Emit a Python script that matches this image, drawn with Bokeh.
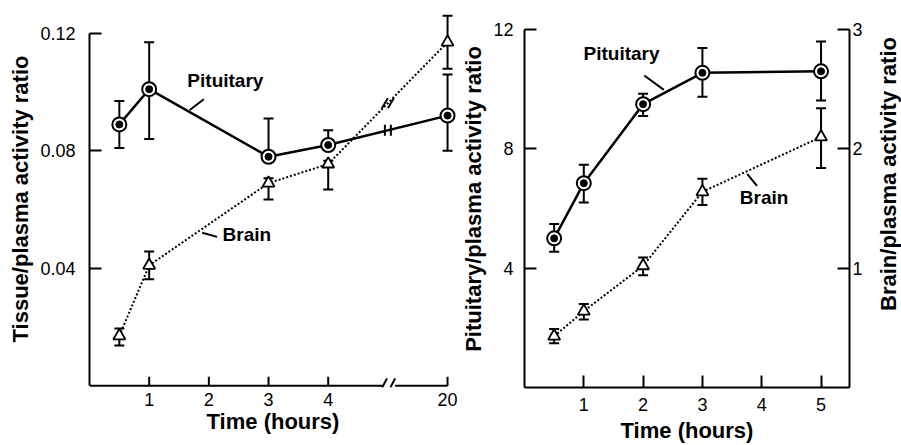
import math
import numpy as np
from bokeh.plotting import figure
from bokeh.models import Range1d, LinearAxis, FixedTicker, Label, ColumnDataSource
from bokeh.layouts import row
from bokeh.embed import file_html
from bokeh.resources import INLINE

# ---------------- data ----------------
# Left panel: tissue/plasma activity ratio vs time (broken axis 4 -> 20 h)
left_time = [0.5, 1, 3, 4, 20]
left_pit = [0.089, 0.101, 0.078, 0.082, 0.092]
left_pit_upper = [0.097, 0.117, 0.091, 0.087, 0.106]
left_pit_lower = [0.081, 0.084, 0.078, 0.082, 0.080]
left_brain = [0.017, 0.041, 0.069, 0.0755, 0.117]
left_brain_upper = [0.0195, 0.0457, 0.0707, 0.0766, 0.126]
left_brain_lower = [0.0137, 0.0363, 0.0634, 0.0668, 0.108]
left_xticks = [1, 2, 3, 4, 20]
left_yticks = [0.04, 0.08, 0.12]

# Right panel: pituitary (left axis) and brain (right axis)
right_time = [0.5, 1, 2, 3, 5]
right_pit = [5.0, 6.85, 9.5, 10.55, 10.6]
right_pit_upper = [5.48, 7.47, 9.85, 11.38, 11.6]
right_pit_lower = [4.55, 6.2, 9.1, 9.75, 9.62]
right_brain = [0.43, 0.64, 1.02, 1.64, 2.10]
right_brain_upper = [0.49, 0.70, 1.09, 1.75, 2.34]
right_brain_lower = [0.37, 0.57, 0.94, 1.53, 1.84]
right_xticks = [1, 2, 3, 4, 5]
right_pit_ticks = [4, 8, 12]
right_brain_ticks = [1, 2, 3]

FONT = "Liberation Sans"

# broken time axis: times up to 4 h are linear, the break sits at 5, 20 h one unit after it
LAST_LINEAR = 4
BREAK_POS = 5


def broken(t):
    return t if t <= LAST_LINEAR else BREAK_POS + 1


def style_axis(ax, ticks, standoff, overrides=None):
    ax.ticker = FixedTicker(ticks=ticks)
    ax.axis_line_width = 2
    ax.axis_line_color = "black"
    ax.major_tick_line_width = 2
    ax.major_tick_line_color = "black"
    ax.major_tick_in = 12
    ax.major_tick_out = 0
    ax.minor_tick_line_color = None
    ax.major_label_standoff = standoff
    ax.major_label_text_font = FONT
    ax.major_label_text_font_size = "18px"
    ax.major_label_text_color = "black"
    ax.axis_label_text_font = FONT
    ax.axis_label_text_font_size = "22px"
    ax.axis_label_text_font_style = "bold"
    ax.axis_label_text_color = "black"
    ax.axis_label_standoff = 4
    if overrides:
        ax.major_label_overrides = overrides


def draw_series(p, x, y, lo, hi, kind, y_range_name="default"):
    src = ColumnDataSource(dict(x=x, y=y, lo=lo, hi=hi))
    kw = dict(source=src, y_range_name=y_range_name)
    if kind == "pit":
        p.line("x", "y", line_color="black", line_width=2.5, **kw)
    else:
        p.line("x", "y", line_color="black", line_width=2, line_dash="2 2", **kw)
    p.segment("x", "lo", "x", "hi", line_color="black", line_width=2, **kw)
    p.scatter("x", "lo", marker="dash", size=10, line_color="black", line_width=2, **kw)
    p.scatter("x", "hi", marker="dash", size=10, line_color="black", line_width=2, **kw)
    if kind == "pit":
        p.scatter("x", "y", marker="circle", size=14, fill_color="white",
                  line_color="black", line_width=2, **kw)
        p.scatter("x", "y", marker="circle", size=7, fill_color="black",
                  line_color="black", line_width=1, **kw)
    else:
        p.scatter("x", "y", marker="triangle", size=12, fill_color="white",
                  line_color="black", line_width=1.8, **kw)


def annotate(p, x, y, text, x0, y0, x1, y1, y_range_name="default"):
    p.add_layout(Label(x=x, y=y, text=text, text_font=FONT, text_font_size="19px",
                       text_font_style="bold", text_color="black",
                       y_range_name=y_range_name))
    p.segment(x0=[x0], y0=[y0], x1=[x1], y1=[y1], line_color="black", line_width=2,
              y_range_name=y_range_name)


# ---------------- left panel ----------------
# y range starts a little below 0 so that the drawn (broken) time axis at y=0 is not clipped
p1 = figure(width=458, height=445, output_backend="svg", toolbar_location=None,
            x_range=Range1d(0, 6.15), y_range=Range1d(-0.0006, 0.1278),
            min_border_left=89, min_border_right=2, min_border_top=10, min_border_bottom=53)
p1.outline_line_color = None
p1.grid.visible = False
p1.background_fill_color = "white"
p1.border_fill_color = "white"

lx = [broken(t) for t in left_time]
draw_series(p1, lx, left_brain, left_brain_lower, left_brain_upper, "brain")
draw_series(p1, lx, left_pit, left_pit_lower, left_pit_upper, "pit")

xt = [broken(t) for t in left_xticks]
style_axis(p1.xaxis[0], xt, 5, {broken(t): str(t) for t in left_xticks})
p1.xaxis[0].axis_line_color = None
p1.xaxis[0].major_tick_line_color = None
p1.xaxis[0].axis_label_standoff = 0
p1.xaxis[0].axis_label = "Time (hours)"
style_axis(p1.yaxis[0], left_yticks, 14)
p1.yaxis[0].bounds = (0, left_yticks[-1])
p1.yaxis[0].axis_label = "Tissue/plasma activity ratio"

# broken time axis drawn at y = 0: two pieces, two slashes, inward tick marks
GAP_L, GAP_R = 0.095, 0.122     # half-gap of the break (x units)
TICK_H = 0.0031                 # inward tick length (y units)
SL_DX, SL_LO, SL_HI = 0.08, -0.0006, 0.0025
p1.segment(x0=[0, BREAK_POS + GAP_R], y0=[0, 0], x1=[BREAK_POS - GAP_L, xt[-1]], y1=[0, 0],
           line_color="black", line_width=2)
p1.segment(x0=[BREAK_POS - GAP_L, BREAK_POS + GAP_R - SL_DX], y0=[SL_LO, SL_LO],
           x1=[BREAK_POS - GAP_L + SL_DX, BREAK_POS + GAP_R], y1=[SL_HI, SL_HI],
           line_color="black", line_width=2)
p1.segment(x0=xt, y0=[0] * len(xt), x1=xt, y1=[TICK_H] * len(xt),
           line_color="black", line_width=2)

# break marks on the lines (positions interpolated from the data)
pit_at_break = float(np.interp(BREAK_POS, lx, left_pit))
brain_at_break = float(np.interp(BREAK_POS, lx, left_brain))
p1.scatter([BREAK_POS - 0.05, BREAK_POS + 0.05], [pit_at_break] * 2, marker="dash",
           angle=math.pi / 2, size=11, line_color="black", line_width=2)
p1.scatter([BREAK_POS - 0.05, BREAK_POS + 0.05], [brain_at_break] * 2, marker="dash",
           angle=math.pi / 3, size=12, line_color="black", line_width=2)

annotate(p1, 1.64, 0.1003, "Pituitary", 1.68, 0.0939, 1.915, 0.0976)
annotate(p1, 2.23, 0.0479, "Brain", 1.888, 0.0521, 2.139, 0.0507)

# ---------------- right panel ----------------
p2 = figure(width=414, height=445, output_backend="svg", toolbar_location=None,
            x_range=Range1d(0, 5.48), y_range=Range1d(0, 12.64),
            min_border_left=66, min_border_right=23, min_border_top=10, min_border_bottom=58)
p2.outline_line_color = None
p2.grid.visible = False
p2.background_fill_color = "white"
p2.border_fill_color = "white"
p2.extra_y_ranges = {"brain": Range1d(0, 3.16)}

draw_series(p2, right_time, right_brain, right_brain_lower, right_brain_upper, "brain",
            y_range_name="brain")
draw_series(p2, right_time, right_pit, right_pit_lower, right_pit_upper, "pit")

style_axis(p2.xaxis[0], right_xticks, 10)
p2.xaxis[0].axis_label = "Time (hours)"
style_axis(p2.yaxis[0], right_pit_ticks, 11)
p2.yaxis[0].bounds = (0, right_pit_ticks[-1])
p2.yaxis[0].axis_label = "Pituitary/plasma activity ratio"

ax_r = LinearAxis(y_range_name="brain")
style_axis(ax_r, right_brain_ticks, 3)
ax_r.bounds = (0, right_brain_ticks[-1])
p2.add_layout(ax_r, "right")

annotate(p2, 0.995, 10.85, "Pituitary", 2.02, 10.46, 2.35, 9.98)
annotate(p2, 3.63, 1.505, "Brain", 3.755, 1.79, 3.92, 1.69, y_range_name="brain")

# ---------------- strip holding the right-hand axis title (reads bottom to top) ----------
p3 = figure(width=29, height=445, output_backend="svg", toolbar_location=None,
            x_range=Range1d(0, 29), y_range=Range1d(0, 445),
            x_axis_location=None, y_axis_location=None, min_border=0)
p3.outline_line_color = None
p3.grid.visible = False
p3.add_layout(Label(x=16, y=252, text="Brain/plasma activity ratio", angle=math.pi / 2,
                    text_align="center", text_baseline="middle", text_font=FONT,
                    text_font_size="22px", text_font_style="bold", text_color="black"))

layout = row(p1, p2, p3)
open("out.html", "w").write(file_html(layout, INLINE))
